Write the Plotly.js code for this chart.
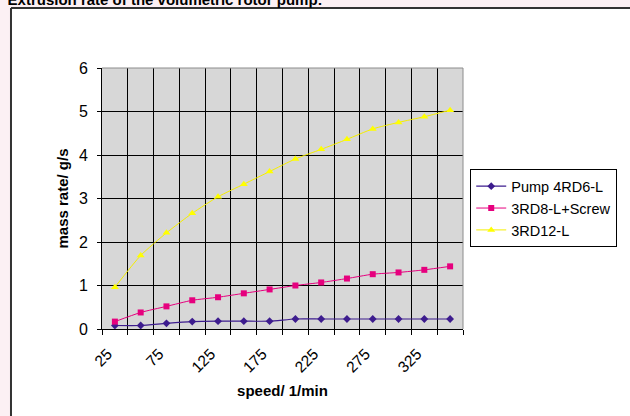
<!DOCTYPE html>
<html>
<head>
<meta charset="utf-8">
<script src="https://cdn.plot.ly/plotly-3.0.1.min.js"></script>
<style>html,body{margin:0;padding:0;background:#fff;}#chart{width:630px;height:416px;}</style>
</head>
<body>
<div id="chart"></div>
<script>
var speed = [25, 50, 75, 100, 125, 150, 175, 200, 225, 250, 275, 300, 325, 350];
var pump4RD6L = [0.08, 0.08, 0.13, 0.17, 0.18, 0.18, 0.18, 0.23, 0.23, 0.23, 0.23, 0.23, 0.23, 0.23];
var rd8Screw = [0.17, 0.38, 0.52, 0.66, 0.73, 0.82, 0.91, 1.00, 1.07, 1.16, 1.26, 1.30, 1.36, 1.44];
var rd12L = [0.96, 1.69, 2.21, 2.66, 3.04, 3.33, 3.62, 3.91, 4.13, 4.36, 4.60, 4.75, 4.88, 5.03];
var seriesNames = ['Pump 4RD6-L', '3RD8-L+Screw', '3RD12-L'];
var xLabelVals = [25, 75, 125, 175, 225, 275, 325];
var xBoundaries = [12.5, 37.5, 62.5, 87.5, 112.5, 137.5, 162.5, 187.5, 212.5, 237.5, 262.5, 287.5, 312.5, 337.5, 362.5];
var yTicks = [0, 1, 2, 3, 4, 5, 6];

var font = 'Arial, "Liberation Sans", sans-serif';
var traces = [
  {x: speed, y: pump4RD6L, name: seriesNames[0], type: 'scatter', mode: 'lines+markers',
   line: {color: '#3d1c8e', width: 1.2, shape: 'spline', smoothing: 0.6},
   marker: {symbol: 'diamond', size: 6, color: '#3d1c8e'}},
  {x: speed, y: rd8Screw, name: seriesNames[1], type: 'scatter', mode: 'lines+markers',
   line: {color: '#e6007e', width: 1, shape: 'spline', smoothing: 0.6},
   marker: {symbol: 'square', size: 6, color: '#e6007e'}},
  {x: speed, y: rd12L, name: seriesNames[2], type: 'scatter', mode: 'lines+markers',
   line: {color: '#f5ee00', width: 1, shape: 'spline', smoothing: 0.6},
   marker: {symbol: 'triangle-up', size: 7, color: '#ffff00'}},
  {x: xLabelVals, y: xLabelVals.map(function(){return null;}), xaxis: 'x2', yaxis: 'y',
   type: 'scatter', mode: 'markers', showlegend: false, hoverinfo: 'skip'}
];

var layout = {
  width: 630, height: 416,
  margin: {l: 102, r: 167, t: 68, b: 87},
  paper_bgcolor: '#ffffff',
  plot_bgcolor: '#d7d7d7',
  font: {family: font, color: '#000'},
  title: {text: '<b>Extrusion rate of the volumetric rotor pump:</b>',
          font: {family: font, size: 15, color: '#000'},
          xref: 'container', yref: 'container', x: 0.012, xanchor: 'left', y: 1, yanchor: 'middle'},
  xaxis: {
    type: 'linear', range: [12.5, 362.5],
    tickmode: 'array', tickvals: xBoundaries, showticklabels: false,
    ticks: 'outside', ticklen: 5, tickcolor: '#000', tickwidth: 1,
    showgrid: true, gridcolor: '#000', gridwidth: 1,
    showline: true, linecolor: '#000', linewidth: 1, zeroline: false,
    title: {text: ''}
  },
  xaxis2: {
    type: 'linear', range: [19.5, 369.5], overlaying: 'x', anchor: 'y', side: 'bottom',
    tickmode: 'array', tickvals: xLabelVals, ticktext: xLabelVals.map(String),
    tickangle: -45, ticks: '', ticklen: 0, ticklabelstandoff: 12,
    showgrid: false, showline: false, zeroline: false,
    tickfont: {family: font, size: 15.5, color: '#000'},
    title: {text: '<b>speed/ 1/min</b>', font: {family: font, size: 15, color: '#000'}, standoff: 10}
  },
  yaxis: {
    range: [0, 6], tickmode: 'array', tickvals: yTicks,
    ticks: 'outside', ticklen: 4, tickcolor: '#000', ticklabelstandoff: 6,
    showgrid: true, gridcolor: '#000', gridwidth: 1,
    showline: true, linecolor: '#000', linewidth: 1, zeroline: false,
    tickfont: {family: font, size: 16, color: '#000'},
    title: {text: '<b>mass rate/ g/s</b>', font: {family: font, size: 15, color: '#000'}, standoff: 6}
  },
  legend: {
    x: 1.02, xanchor: 'left', y: 0.612, yanchor: 'top',
    bgcolor: '#fff', bordercolor: '#000', borderwidth: 1,
    font: {family: font, size: 14.5, color: '#000'},
    itemwidth: 30, tracegroupgap: 0
  },
  shapes: [
    {type: 'rect', xref: 'paper', yref: 'paper', x0: -0.3, x1: 1.6, y0: 1.2299, y1: 1.4,
     fillcolor: '#fcf0f4', line: {width: 0}, layer: 'below'},
    {type: 'rect', xref: 'paper', yref: 'paper', x0: -0.3, x1: -0.2521, y0: -0.5, y1: 1.4,
     fillcolor: '#fcf0f4', line: {width: 0}, layer: 'below'},
    {type: 'line', xref: 'paper', yref: 'paper', x0: -0.2521, x1: 1.6, y0: 1.2299, y1: 1.2299,
     line: {color: '#333', width: 2}, layer: 'below'},
    {type: 'line', xref: 'paper', yref: 'paper', x0: -0.2521, x1: -0.2521, y0: -0.5, y1: 1.2299,
     line: {color: '#333', width: 2}, layer: 'below'},
    {type: 'line', xref: 'paper', yref: 'paper', x0: 0, x1: 1, y0: 1, y1: 1,
     line: {color: '#8c8c8c', width: 1}, layer: 'above'},
    {type: 'line', xref: 'paper', yref: 'paper', x0: 1, x1: 1, y0: 0, y1: 1,
     line: {color: '#8c8c8c', width: 1}, layer: 'above'}
  ]
};

Plotly.newPlot('chart', traces, layout, {staticPlot: true, displayModeBar: false});
</script>
</body>
</html>
